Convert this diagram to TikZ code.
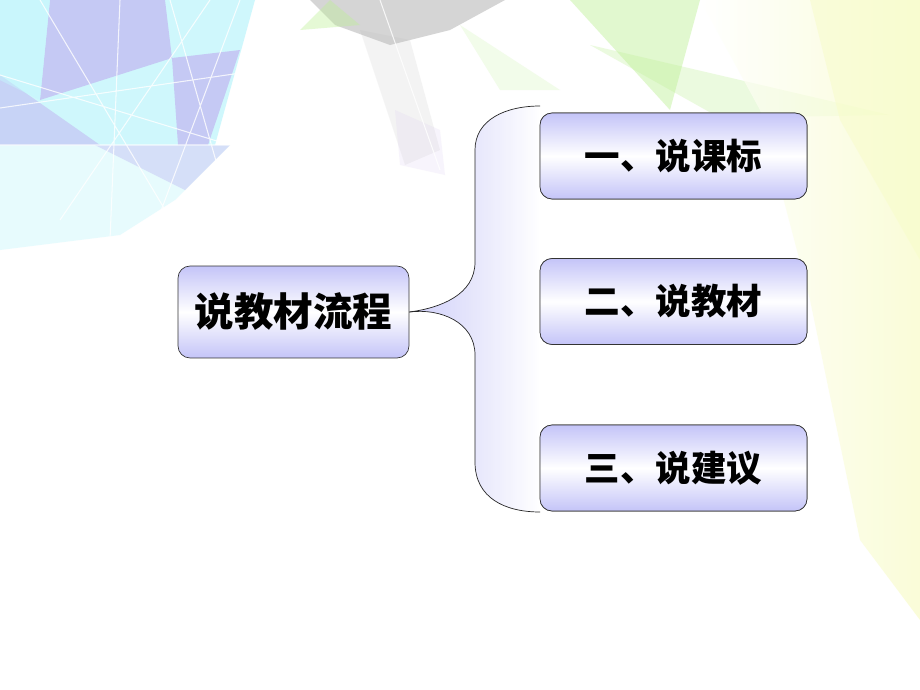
\documentclass[tikz,border=0pt]{standalone}
\usepackage{fontspec}
\newfontfamily\cjk{Noto Sans CJK SC}
\definecolor{boxlav}{RGB}{196,196,248}
\definecolor{bglav}{RGB}{196,196,244}
\definecolor{bgcyan}{RGB}{196,246,252}
\definecolor{bggray}{RGB}{180,180,180}
\definecolor{bggreen}{RGB}{190,240,150}
\definecolor{bgyellow}{RGB}{248,252,200}

\tikzset{
  box/.style={draw=black!80, thin, rounded corners=0.24cm, top color=boxlav,
    bottom color=boxlav, middle color=white, align=center, inner sep=0pt},
  mainbox/.style={box, minimum width=4.62cm, minimum height=1.84cm,
    font=\cjk\bfseries\fontsize{22.5}{26}\selectfont},
  itembox/.style={box, minimum width=5.34cm, minimum height=1.72cm,
    font=\cjk\bfseries\fontsize{20.2}{24}\selectfont},
  brace/.style={draw=black!85, thin}
}

\begin{document}
\begin{tikzpicture}[x=0.02cm,y=-0.02cm]
  \useasboundingbox (0,0) rectangle (920,690);
  \fill[white] (0,0) rectangle (920,690);

  % background pattern
  \begin{scope}
    \fill[bgcyan, opacity=0.8] (0,0) -- (255,0) -- (215,145) -- (0,145) -- cycle;
    \fill[bgcyan, opacity=0.4] (0,145) -- (230,145) -- (175,200) -- (120,235) -- (0,250) -- cycle;
    \fill[bglav, opacity=0.9] (50,0) -- (165,0) -- (172,58) -- (40,100) -- cycle;
    \fill[bglav, opacity=0.9] (172,58) -- (240,50) -- (208,145) -- (178,145) -- cycle;
    \fill[bglav, opacity=0.7] (0,75) -- (100,145) -- (0,145) -- cycle;
    \fill[bglav, opacity=0.5] (95,145) -- (230,145) -- (185,190) -- cycle;
    \fill[bgcyan, opacity=0.5] (0,0) -- (50,0) -- (40,100) -- (0,80) -- cycle;
    \fill[bggray, opacity=0.55] (310,0) -- (505,0) -- (450,30) -- (390,45) -- (335,25) -- cycle;
    \fill[bggray, opacity=0.15] (360,30) -- (410,40) -- (440,150) -- (405,165) -- cycle;
    \fill[red!30!blue!20, opacity=0.2] (395,110) -- (440,130) -- (445,175) -- (400,165) -- cycle;
    \fill[bggreen, opacity=0.4] (300,30) -- (330,0) -- (360,25) -- cycle;
    \fill[bggreen, opacity=0.45] (570,0) -- (700,0) -- (670,110) -- cycle;
    \fill[bggreen, opacity=0.3] (590,45) -- (890,115) -- (720,118) -- cycle;
    \fill[bggreen, opacity=0.2] (460,25) -- (560,90) -- (500,90) -- cycle;
    \shade[left color=white, right color=bgyellow, opacity=0.7]
      (700,0) -- (920,0) -- (920,620) -- (860,540) -- (810,300) -- (760,110) -- cycle;
    \fill[bgyellow, opacity=0.5] (810,0) -- (920,0) -- (920,260) -- (840,120) -- cycle;
    \draw[white, opacity=0.8, line width=0.6pt]
      (0,108) -- (330,60) (40,0) -- (180,235) (120,0) -- (110,240)
      (0,75) -- (230,145) (170,0) -- (230,210) (210,0) -- (60,220)
      (0,145) -- (300,145) (240,0) -- (150,240) (380,0) -- (440,170);
  \end{scope}

  % brace
  \coordinate (bracetop) at (540,106);
  \coordinate (bracebot) at (540,512);

  \node[mainbox] (main) at (293.5,312) {说教材流程};
  \node[itembox] (item1) at (673.5,156) {一、说课标};
  \node[itembox] (item2) at (673.5,301.5) {二、说教材};
  \node[itembox] (item3) at (673.5,468) {三、说建议};

  \shade[left color=boxlav, right color=white, opacity=0.8]
    (main.east) .. controls (440,308) and (475,295) .. (475,262) -- (475,150)
    .. controls (475,120) and (505,106) .. (bracetop) -- (bracebot)
    .. controls (505,512) and (475,498) .. (475,462) -- (475,355)
    .. controls (475,322) and (440,308) .. (main.east) -- cycle;
  \draw[brace] (main.east) .. controls (440,308) and (475,295) .. (475,262) -- (475,150)
    .. controls (475,120) and (505,106) .. (bracetop);
  \draw[brace] (main.east) .. controls (440,308) and (475,322) .. (475,355) -- (475,462)
    .. controls (475,498) and (505,512) .. (bracebot);

  % redraw boxes over the brace fill
  \node[itembox] at (item1) {一、说课标};
  \node[itembox] at (item2) {二、说教材};
  \node[itembox] at (item3) {三、说建议};
\end{tikzpicture}
\end{document}
